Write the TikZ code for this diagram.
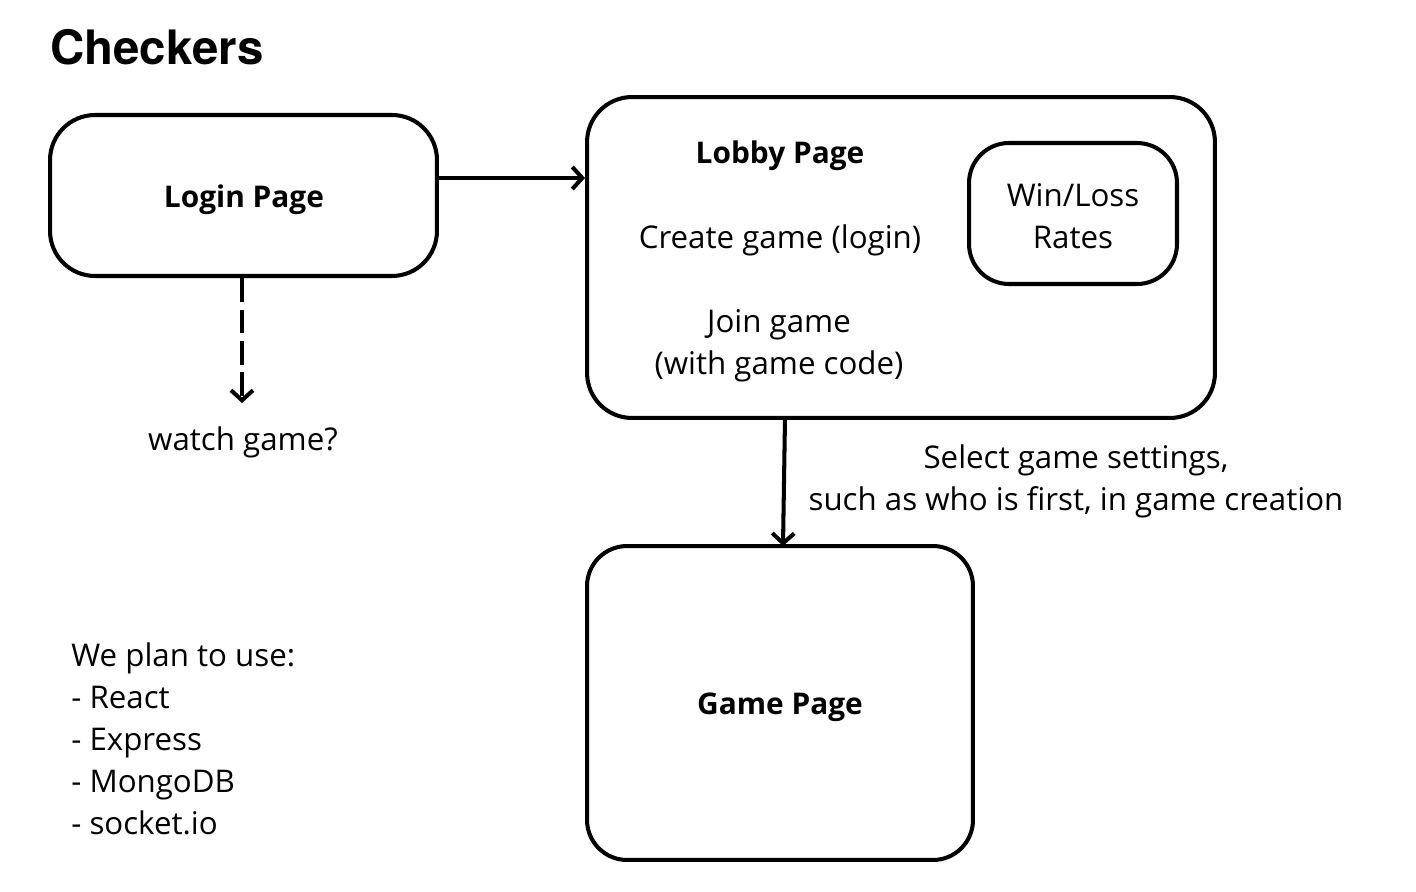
\documentclass[tikz,border=0pt]{standalone}
\usepackage{fontspec}
\setmainfont{Open Sans}
\newfontfamily\titlefont{TeX Gyre Heros}
\usetikzlibrary{arrows.meta, positioning}
\tikzset{page/.style={draw=black, line width=2.3pt, rounded corners=0.9cm, inner sep=0pt},
    link/.style={line width=2.3pt, -{Straight Barb[length=2mm,width=4.4mm,line width=2.3pt]}},
    txt/.style={font=\fontsize{17.8}{24}\selectfont, align=center, inner sep=0pt},
    pagetitle/.style={txt, font=\bfseries\fontsize{17}{24}\selectfont}}

\begin{document}
\begin{tikzpicture}[x=0.02cm, y=-0.02cm]
                 \useasboundingbox (0,0) rectangle (1416,892);
                 \node[anchor=west, inner sep=0pt, font=\titlefont\bfseries\fontsize{27}{30}\selectfont] (title) at (50,47) {Checkers};

                 % the pages
                 \node[page, minimum width=7.74cm, minimum height=3.22cm] (login) at (243.5,195.5) {};
                 \node[pagetitle] (loginname) at (244,200) {Login Page};
                 \node[page, minimum width=12.56cm, minimum height=6.42cm] (lobby) at (901,257.5) {};
                 \node[pagetitle] (lobbyname) at (780,156) {Lobby Page};
                 \node[txt] (create) at (780,240) {Create game (login)};
                 \node[txt] (join) at (779,346) {Join game\\(with game code)};
                 \node[page, rounded corners=0.8cm, minimum width=4.16cm, minimum height=2.82cm] (stats) at (1073,213.5) {};
                 \node[txt] (rates) at (1073,216) {Win/Loss\\Rates};
                 \node[page, rounded corners=0.8cm, minimum width=7.72cm, minimum height=6.28cm] (game) at (780,703) {};
                 \node[pagetitle] (gamename) at (780,707) {Game Page};

                 % arrows
                 \coordinate (watchtop) at (242,403);
                 \node[txt] (watch) at (243,442) {watch game?};
                 \draw[link] (login.east |- 0,178) -- (lobby.west |- 0,178);
                 \draw[link, dash pattern=on 0.48cm off 0.15cm] (login.south -| 242,0) -- (watchtop);
                 \draw[link] (785,418) -- (783,546);
                 \node[txt] (settings) at (1076,481) {Select game settings,\\such as who is first, in game creation};

                 % stack
                 \node[txt, align=left, anchor=north west] (stack) at (71,642) {We plan to use:\\- React\\- Express\\- MongoDB\\- socket.io};
             \end{tikzpicture}
\end{document}
